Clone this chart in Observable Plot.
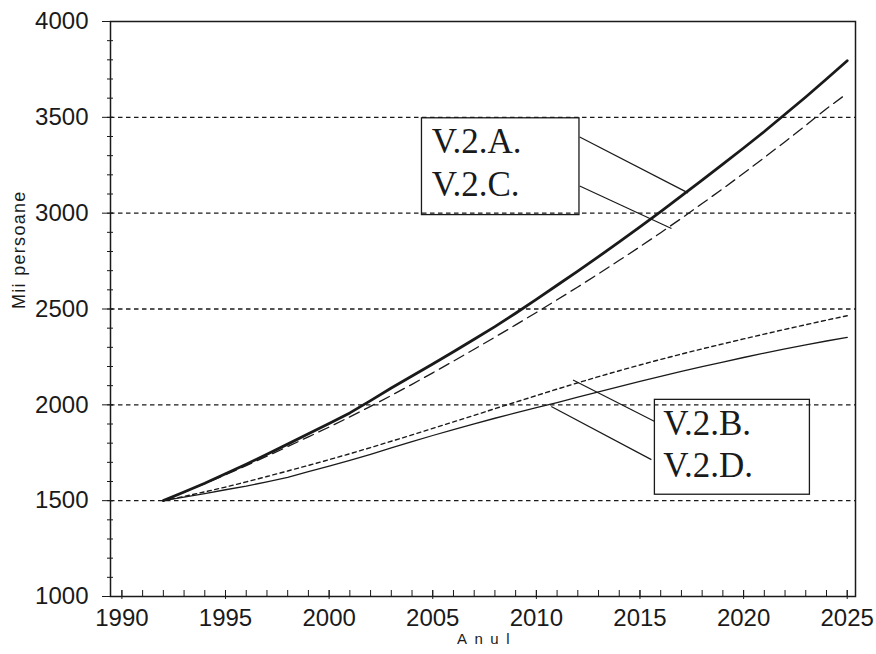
<!DOCTYPE html>
<html>
<head>
<meta charset="utf-8">
<script src="https://cdn.jsdelivr.net/npm/d3@7"></script>
<script src="https://cdn.jsdelivr.net/npm/@observablehq/plot@0.6"></script>
<style>
  body { margin: 0; background: #fff; }
</style>
</head>
<body>
<div id="chart"></div>
<script>
// ---- data ----
const years = [1992,1993,1994,1995,1996,1997,1998,1999,2000,2001,2002,2003,2004,2005,2006,2007,2008,2009,
               2010,2011,2012,2013,2014,2015,2016,2017,2018,2019,2020,2021,2022,2023,2024,2025];
const popA = [1500,1545,1591,1640,1690,1742,1795,1849,1903,1958,2022,2088,2150,2213,2277,2342,2408,2478,
              2550,2624,2698,2773,2850,2928,3008,3090,3172,3256,3340,3426,3516,3606,3700,3795];
const popB = [1500,1522,1546,1571,1598,1626,1655,1684,1714,1745,1777,1810,1843,1877,1911,1945,1980,2014,
              2048,2082,2115,2147,2178,2208,2237,2265,2292,2318,2344,2369,2394,2418,2442,2465];
const popC = [1500,1544,1589,1635,1683,1732,1782,1833,1884,1937,1992,2049,2107,2167,2228,2290,2353,2417,
              2482,2548,2615,2684,2754,2825,2898,2973,3050,3128,3208,3290,3373,3458,3545,3625];
const popD = [1500,1518,1537,1557,1576,1598,1622,1651,1680,1710,1742,1775,1808,1840,1871,1901,1930,1958,
              1985,2012,2040,2068,2095,2122,2148,2174,2199,2223,2247,2270,2292,2313,2333,2352];
const yTickValues = [1000,1500,2000,2500,3000,3500,4000];
const xTickValues = [1990,1995,2000,2005,2010,2015,2020,2025];
const gridValues = [1500,2000,2500,3000,3500];
const labelsAC = ["V.2.A.","V.2.C."];
const labelsBD = ["V.2.B.","V.2.D."];
const yTitle = "Mii persoane";
const xTitle = "Anul";

const rows = (vals) => years.map((year, i) => ({year, value: vals[i]}));
const rowsA = rows(popA), rowsB = rows(popB), rowsC = rows(popC), rowsD = rows(popD);
const yMinor = d3.range(1000, 4001, 100);
const xMinor = d3.range(1990, 2026, 1);

const ink = "#1a1a1a";
const serif = "'Liberation Serif', 'Times New Roman', serif";

const chart = Plot.plot({
  width: 876,
  height: 654,
  marginLeft: 110,
  marginRight: 21,
  marginTop: 21,
  marginBottom: 58,
  x: {domain: [1989.45, 2025.4]},
  y: {domain: [1000, 4000]},
  style: {fontFamily: "'Liberation Sans', Arial, sans-serif", background: "#fff", color: ink},
  marks: [
    Plot.ruleY(gridValues, {stroke: ink, strokeWidth: 1.3, strokeDasharray: "4.5,3.5"}),
    Plot.line(rowsD, {x: "year", y: "value", stroke: ink, strokeWidth: 1.3}),
    Plot.line(rowsB, {x: "year", y: "value", stroke: ink, strokeWidth: 1.4, strokeDasharray: "4,3.5"}),
    Plot.line(rowsC, {x: "year", y: "value", stroke: ink, strokeWidth: 1.3, strokeDasharray: "11,6"}),
    Plot.line(rowsA, {x: "year", y: "value", stroke: ink, strokeWidth: 2.8}),
    // annotation boxes
    Plot.rect([labelsAC], {x1: () => 2004.48, x2: () => 2012.08, y1: () => 2990, y2: () => 3495,
      fill: "none", stroke: ink, strokeWidth: 1.3}),
    Plot.rect([labelsBD], {x1: () => 2015.72, x2: () => 2023.2, y1: () => 1531, y2: () => 2026,
      fill: "none", stroke: ink, strokeWidth: 1.3}),
    Plot.text(labelsAC, {x: () => 2004.95, y: (d, i) => [3314, 3089][i], text: d => d,
      textAnchor: "start", lineAnchor: "bottom", fontFamily: serif, fontSize: 35, fill: ink}),
    Plot.text(labelsBD, {x: () => 2016.12, y: (d, i) => [1842, 1621][i], text: d => d,
      textAnchor: "start", lineAnchor: "bottom", fontFamily: serif, fontSize: 35, fill: ink}),
    // leader lines
    Plot.link(labelsAC, {
      x1: () => 2012.09, y1: (d, i) => [3397, 3142][i],
      x2: (d, i) => [2017.32, 2016.52][i], y2: (d, i) => [3106, 2920][i],
      stroke: ink, strokeWidth: 1.2}),
    Plot.link(labelsBD, {
      x1: (d, i) => [2015.71, 2015.55][i], y1: (d, i) => [1913, 1714][i],
      x2: (d, i) => [2011.77, 2010.72][i], y2: (d, i) => [2130, 1991][i],
      stroke: ink, strokeWidth: 1.2}),
    Plot.frame({stroke: ink, strokeWidth: 1.5}),
    // y axis
    Plot.axisY(yTickValues, {tickSize: 0, tickPadding: 22, fontSize: 24, tickFormat: "d", label: null}),
    Plot.axisY(yMinor, {tickSize: 6, dx: 3, tickFormat: () => "", label: null, stroke: ink}),
    Plot.axisY(yTickValues, {tickSize: 11, dx: 3, tickFormat: () => "", label: null, stroke: ink}),
    // x axis
    Plot.axisX(xTickValues, {tickSize: 0, tickPadding: 12, fontSize: 24, tickFormat: "d", label: null}),
    Plot.axisX(xMinor, {tickSize: 6, dy: -6, tickFormat: () => "", label: null, stroke: ink}),
    Plot.axisX(xTickValues, {tickSize: 9, dy: -6, tickFormat: () => "", label: null, stroke: ink}),
    // axis titles
    Plot.text([yTitle], {frameAnchor: "left", dx: -91, rotate: -90, fontSize: 18, fill: ink}),
    Plot.text([xTitle], {frameAnchor: "bottom", dx: 4, dy: 47, fontSize: 15, fill: ink})
  ]
});

d3.select(chart).selectAll("text").each(function () {
  const t = this.textContent;
  if (t === xTitle) this.style.letterSpacing = "7.5px";
  if (t === yTitle) this.style.letterSpacing = "1.3px";
});

document.getElementById("chart").appendChild(chart);
</script>
</body>
</html>
